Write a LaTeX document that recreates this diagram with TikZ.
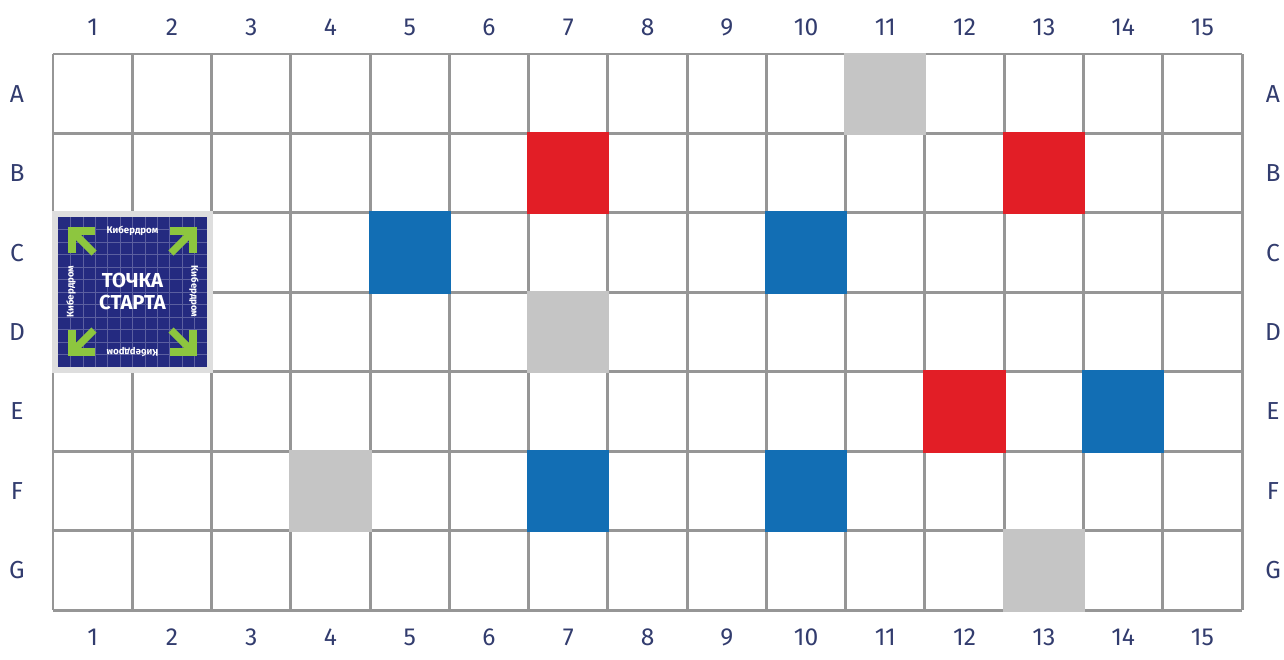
\documentclass[tikz,border=0pt]{standalone}
\usepackage{fontspec}
\setmainfont{Fira Sans}
\usetikzlibrary{positioning}

\definecolor{gridgray}{RGB}{150,150,150}
\definecolor{cellgray}{RGB}{197,197,197}
\definecolor{cellred}{RGB}{226,30,38}
\definecolor{cellblue}{RGB}{18,110,180}
\definecolor{labelblue}{RGB}{50,60,110}
\definecolor{startnavy}{RGB}{36,42,128}
\definecolor{startgreen}{RGB}{141,198,63}
\definecolor{startrim}{RGB}{222,222,222}

\begin{document}
\begin{tikzpicture}[x=0.02cm, y=-0.02cm,
	coordlabel/.style={font=\fontsize{14}{16}\selectfont, text=labelblue},
	brand/.style={font=\bfseries\fontsize{5.5}{6}\selectfont, text=white},
	startarrow/.style={startgreen, line width=4.2pt}]
	\useasboundingbox (0,0) rectangle (1284,659);
	\def\cw{79.27} \def\ch{79.43}
	% grid
	\foreach \i in {0,...,15} \draw[gridgray, line width=1.7pt] ({53+\i*\cw},54) -- ({53+\i*\cw},610);
	\foreach \j in {0,...,7} \draw[gridgray, line width=1.7pt] (53,{54+\j*\ch}) -- (1242,{54+\j*\ch});
	% coloured cells
	\foreach \c/\r/\col in {11/1/cellgray, 7/4/cellgray, 4/6/cellgray, 13/7/cellgray,
		7/2/cellred, 13/2/cellred, 12/5/cellred,
		5/3/cellblue, 10/3/cellblue, 14/5/cellblue, 7/6/cellblue, 10/6/cellblue}
		\fill[\col] ({53+(\c-1)*\cw-1.5},{54+(\r-1)*\ch-1.5}) rectangle ++({\cw+3},{\ch+3});
	% labels
	\foreach \i in {1,...,15} {
		\node[coordlabel] (top\i) at ({53+(\i-0.5)*\cw},27) {\i};
		\node[coordlabel] (bot\i) at ({53+(\i-0.5)*\cw},637) {\i};
	}
	\foreach \r/\l in {1/A,2/B,3/C,4/D,5/E,6/F,7/G} {
		\node[coordlabel] (left\l) at (17,{54+(\r-0.5)*\ch}) {\l};
		\node[coordlabel] (right\l) at (1273,{54+(\r-0.5)*\ch}) {\l};
	}
	% start point
	\fill[startrim] (52,211) rectangle (213,373);
	\fill[startnavy] (58,217) rectangle (207,367);
	\foreach \k in {1,...,11} {
		\draw[startnavy!75!white, line width=0.3pt] ({58+\k*149/12},217) -- ({58+\k*149/12},367);
		\draw[startnavy!75!white, line width=0.3pt] (58,{217+\k*150/12}) -- (207,{217+\k*150/12});
	}
	\draw[startarrow] (72,253) -- (72,231) -- (95,231);
	\draw[startarrow] (74,233) -- (94,253);
	\draw[startarrow] (193,253) -- (193,231) -- (170,231);
	\draw[startarrow] (191,233) -- (171,253);
	\draw[startarrow] (72,330) -- (72,352) -- (95,352);
	\draw[startarrow] (74,350) -- (94,330);
	\draw[startarrow] (193,330) -- (193,352) -- (170,352);
	\draw[startarrow] (191,350) -- (171,330);
	\node[font=\bfseries\fontsize{11.5}{13}\selectfont, text=white, align=center] (starttext) at (132.5,291.5) {ТОЧКА\\СТАРТА};
	\node[brand] (brandtop) at (132.5,231) {Кибердром};
	\node[brand, rotate=-90] (brandright) at (194,291.5) {Кибердром};
	\node[brand, rotate=180] (brandbot) at (132.5,352) {Кибердром};
	\node[brand, rotate=90] (brandleft) at (71,291.5) {Кибердром};
\end{tikzpicture}
\end{document}
